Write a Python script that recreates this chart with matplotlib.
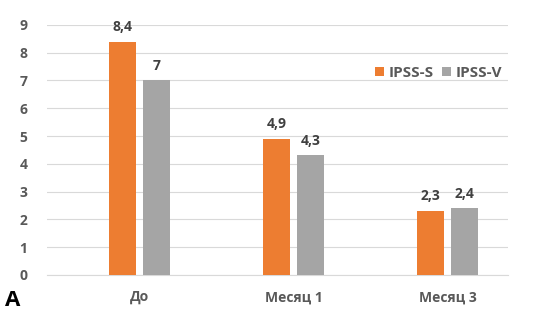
import matplotlib
matplotlib.use("Agg")
import matplotlib.pyplot as plt
import numpy as np

categories = ["До", "Месяц 1", "Месяц 3"]
ipss_s = [8.4, 4.9, 2.3]
ipss_v = [7.0, 4.3, 2.4]
labels_s = ["8,4", "4,9", "2,3"]
labels_v = ["7", "4,3", "2,4"]
yticks = list(range(0, 10))

plt.rcParams['font.family'] = ['Open Sans', 'DejaVu Sans']
fig = plt.figure(figsize=(5.33, 3.19), dpi=100)
ax = fig.add_axes([0.088, 0.138, 0.865, 0.784])

x = np.arange(len(categories))
w = 0.175
off = 0.11
orange = "#ED7D31"
gray = "#A5A5A5"
b1 = ax.bar(x - off, ipss_s, w, color=orange, label="IPSS-S", zorder=3)
b2 = ax.bar(x + off, ipss_v, w, color=gray, label="IPSS-V", zorder=3)

for xi, v, t in zip(x - off, ipss_s, labels_s):
    ax.text(xi, v + 0.28, t, ha="center", va="bottom", fontsize=10, fontweight="bold", color="#404040")
for xi, v, t in zip(x + off, ipss_v, labels_v):
    ax.text(xi, v + 0.28, t, ha="center", va="bottom", fontsize=10, fontweight="bold", color="#404040")

ax.set_xlim(-0.60, 2.39)
ax.set_ylim(0, 9)
ax.set_yticks(yticks)
ax.set_xticks(x)
ax.set_xticklabels(categories)
ax.grid(axis="y", color="#D9D9D9", linewidth=0.8, zorder=0)
for s in ["top", "right", "left"]:
    ax.spines[s].set_visible(False)
ax.spines["bottom"].set_color("#D9D9D9")
ax.tick_params(axis="both", length=0, labelsize=10, colors="#595959")
ax.tick_params(axis="x", pad=11)
ax.tick_params(axis="y", pad=14)
for lbl in ax.get_xticklabels() + ax.get_yticklabels():
    lbl.set_fontweight("bold")

leg = ax.legend(loc="upper right", bbox_to_anchor=(1.0, 0.86), ncol=2, frameon=False,
                fontsize=11, handlelength=0.6, handleheight=0.6, handletextpad=0.3,
                columnspacing=0.5, borderaxespad=0)
for t in leg.get_texts():
    t.set_fontweight("bold")
    t.set_color("#595959")

fig.text(0.01, 0.04, "A", fontsize=16, fontweight="bold", color="black")

fig.savefig("out.png", dpi=100, facecolor="white")
